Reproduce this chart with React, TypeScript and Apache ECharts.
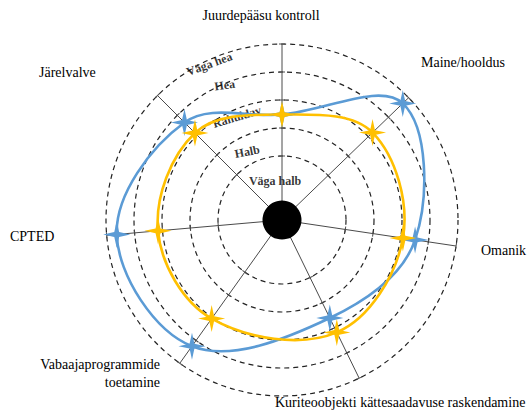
import React, { useEffect, useRef } from 'react';
import * as echarts from 'echarts';

// ---- data ----
const axisNames = [
  'Juurdepääsu kontroll',
  'Maine/hooldus',
  'Omanik',
  'Kuriteoobjekti kättesaadavuse raskendamine',
  'Vabaajaprogrammide\ntoetamine',
  'CPTED',
  'Järelvalve',
];
const axisAngles = [90, 44, 351.5, 296, 234.5, 185, 135];
const blueValues = [2.48, 4.71, 3.52, 2.61, 4.25, 4.64, 3.64];
const yellowValues = [2.48, 3.21, 3.08, 3.18, 3.04, 3.16, 3.11];
const ratingLabels = ['Väga halb', 'Halb', 'Rahuldav', 'Hea', 'Väga hea'];
const ringValues = [1, 2, 3, 4, 5];

// ---- layout ----
const RMIN = -9 / 7;
const RMAX = 5;
const CENTER = [282, 220];
const OUTER = 176;
const INNER = 64;
const BLUE = '#5B9BD5';
const YELLOW = '#FFC000';
const SERIF = 'Liberation Serif';

// label placement for rating bands: [radius value, angle, rotate]
const ratingPlacement = [
  [0.13, 100, 0],
  [1.45, 117, 11],
  [2.73, 113.6, 17],
  [3.95, 113, 8],
  [4.86, 115, 20],
];

// axis name placement: [x, y, align]
const namePlacement: [number, number, string][] = [
  [261, 15, 'center'],
  [421, 62, 'left'],
  [481, 250, 'left'],
  [275, 402, 'left'],
  [160, 364, 'right'],
  [10, 236, 'left'],
  [39, 72, 'left'],
];

const STAR = 'path://M50,0 L59,41 L100,50 L59,59 L50,100 L41,59 L0,50 L41,41 Z';

function loopSeries(name: string, values: number[], color: string) {
  return {
    type: 'custom',
    name,
    coordinateSystem: 'polar',
    polarIndex: 0,
    data: values.map((v, i) => [v, axisAngles[i]]),
    z: 3,
    renderItem: (params: any, api: any) => {
      if (params.dataIndex !== 0) return null;
      const pts = values.map((v, i) => api.coord([v, axisAngles[i]]));
      return {
        type: 'polygon',
        shape: { points: pts, smooth: 0.36 },
        style: { fill: 'none', stroke: color, lineWidth: 2.6 },
      };
    },
  };
}

function starSeries(name: string, values: number[], color: string) {
  return {
    type: 'scatter',
    name,
    coordinateSystem: 'polar',
    polarIndex: 0,
    symbol: STAR,
    symbolSize: 27,
    itemStyle: { color, opacity: 1 },
    z: 4,
    data: values.map((v, i) => [v, axisAngles[i]]),
  };
}

export default function App() {
  const ref = useRef<HTMLDivElement>(null);
  useEffect(() => {
    if (!ref.current) return;
    const chart = echarts.init(ref.current, undefined, { renderer: 'svg' });

    const spokes = axisAngles.map((a, i) => ({
      type: 'line',
      name: 'spoke' + i,
      coordinateSystem: 'polar',
      polarIndex: 0,
      symbol: 'none',
      lineStyle: { color: '#4a4a4a', width: 1 },
      z: 1,
      data: [
        [RMIN, a],
        [RMAX, a],
      ],
    }));

    const ticks: any[] = [];
    axisAngles.forEach((a) =>
      ringValues.forEach((rv) => ticks.push({ value: [rv, a], symbolRotate: a }))
    );

    const option: any = {
      animation: false,
      textStyle: { fontFamily: SERIF },
      polar: [
        { center: CENTER, radius: [0, OUTER] },
        { center: CENTER, radius: [INNER, OUTER] },
      ],
      angleAxis: [
        { polarIndex: 0, type: 'value', min: 0, max: 360, startAngle: 0, clockwise: false, show: false },
        { polarIndex: 1, type: 'value', min: 0, max: 360, startAngle: 0, clockwise: false, show: false },
      ],
      radiusAxis: [
        { polarIndex: 0, type: 'value', min: RMIN, max: RMAX, show: false },
        {
          polarIndex: 1,
          type: 'value',
          min: 1,
          max: 5,
          interval: 1,
          axisLine: { show: false },
          axisTick: { show: false },
          axisLabel: { show: false },
          splitLine: { show: true, lineStyle: { type: [5, 4], color: '#222', width: 1.2 } },
        },
      ],
      series: [
        ...spokes,
        {
          type: 'scatter',
          name: 'ticks',
          coordinateSystem: 'polar',
          polarIndex: 0,
          symbol: 'rect',
          symbolSize: [1, 6],
          itemStyle: { color: '#4a4a4a', opacity: 1 },
          z: 1,
          data: ticks,
        },
        {
          type: 'scatter',
          name: 'ratings',
          coordinateSystem: 'polar',
          polarIndex: 0,
          symbolSize: 0,
          z: 2,
          label: {
            show: true,
            position: 'inside',
            fontFamily: SERIF,
            fontWeight: 'bold',
            fontSize: 12,
            color: '#000',
            formatter: (p: any) => ratingLabels[p.dataIndex],
          },
          data: ratingPlacement.map((pl) => ({ value: [pl[0], pl[1]], label: { rotate: pl[2] } })),
        },
        loopSeries('Hinnang 1', blueValues, BLUE),
        loopSeries('Hinnang 2', yellowValues, YELLOW),
        starSeries('Hinnang 1 punktid', blueValues, BLUE),
        starSeries('Hinnang 2 punktid', yellowValues, YELLOW),
        {
          type: 'scatter',
          name: 'center',
          coordinateSystem: 'polar',
          polarIndex: 0,
          symbol: 'circle',
          symbolSize: 39,
          itemStyle: { color: '#000', opacity: 1 },
          z: 5,
          data: [[RMIN, 0]],
        },
      ],
      graphic: axisNames.map((n, i) => ({
        type: 'text',
        x: namePlacement[i][0],
        y: namePlacement[i][1],
        z: 10,
        style: {
          text: n,
          fill: '#000',
          font: '14px "Liberation Serif"',
          fontFamily: SERIF,
          fontSize: 14,
          textAlign: namePlacement[i][2],
          textVerticalAlign: 'middle',
          lineHeight: 18,
        },
      })),
    };
    option.graphic[4].style.textVerticalAlign = 'top';
    option.graphic[4].y = namePlacement[4][1] - 9;

    chart.setOption(option);
    return () => chart.dispose();
  }, []);

  return (
    <div
      ref={ref}
      style={{ position: 'absolute', left: 0, top: 0, width: 529, height: 414, background: '#fff' }}
    />
  );
}
